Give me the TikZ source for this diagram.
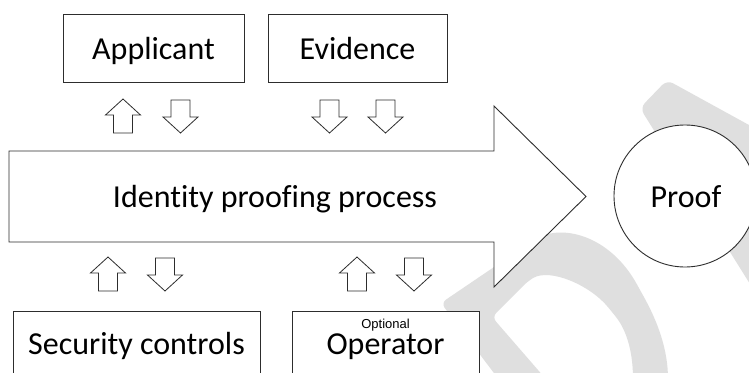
\documentclass[tikz,border=0pt]{standalone}
\usepackage{fontspec}
\setmainfont{Carlito}[Ligatures=NoCommon]
\newfontfamily\arialfont{Liberation Sans}
\definecolor{wm}{RGB}{223,223,223}
\definecolor{ln}{RGB}{45,45,45}
\begin{document}
\begin{tikzpicture}[x=1pt,y=-1pt,
  box/.style={draw=ln, line width=0.9pt, fill=white},
  lbl/.style={font=\fontsize{32}{32}\selectfont, anchor=base, inner sep=0pt},
  blk/.style={draw=ln, line width=0.8pt, fill=white, line join=miter},
  uparrow/.pic={\draw[blk] (0,0) -- (17.5,16) -- (9.5,16) -- (9.5,34) -- (-9.5,34) -- (-9.5,16) -- (-17.5,16) -- cycle;},
  downarrow/.pic={\draw[blk] (-9.5,0) -- (9.5,0) -- (9.5,17) -- (17.5,17) -- (0,33) -- (-17.5,17) -- (-9.5,17) -- cycle;}
]
\useasboundingbox (0,0) rectangle (749,372);
\clip (0,0) rectangle (749,372);
\fill[white] (0,0) rectangle (749,372);
% watermark
\fill[wm, even odd rule, rounded corners=6pt]
  (503,385) -- (441,303) -- (528,244)
  .. controls (560,222) and (610,235) .. (640,290)
  .. controls (658,322) and (668,350) .. (668,385) -- cycle
  (551,385) -- (492,317) -- (528,281)
  .. controls (550,268) and (590,285) .. (612,312)
  .. controls (628,332) and (633,355) .. (633,385) -- cycle;
\fill[wm, rounded corners=7pt] (640,108) -- (667,80) -- (820,164) -- (820,340) -- (785,340) -- cycle;
% top boxes
\node[box, minimum width=181pt, minimum height=68pt] (app) at (153.5,48) {};
\node[lbl] (appt) at (153.5,59.5) {Applicant};
\node[box, minimum width=179pt, minimum height=68pt] (evi) at (357.5,48) {};
\node[lbl] (evit) at (357.5,59.5) {Evidence};
% small arrows top
\pic at (123,99) {uparrow};
\pic at (180.5,100) {downarrow};
\pic at (329.5,100) {downarrow};
\pic at (385.5,100) {downarrow};
% big arrow
\draw[box, line join=miter] (9,151) -- (494,151) -- (494,106) -- (586,196.5) -- (494,287) -- (494,242) -- (9,242) -- cycle;
\node[lbl] (proc) at (275,207.5) {Identity proofing process};
% proof circle
\node[box, circle, minimum size=142pt, inner sep=0pt] (proof) at (685,196) {};
\node[lbl] (prooft) at (686,207.5) {Proof};
% small arrows bottom
\pic at (108,257) {uparrow};
\pic at (165,258) {downarrow};
\pic at (357,257) {uparrow};
\pic at (414,258) {downarrow};
% bottom boxes
\node[box, minimum width=247pt, minimum height=90pt] (sec) at (136.5,356) {};
\node[lbl] (sect) at (136.5,354) {Security controls};
\node[box, minimum width=187pt, minimum height=90pt] (op) at (385.5,356) {};
\node[anchor=base, inner sep=0pt, font=\arialfont\fontsize{13}{13}\selectfont] (opt) at (385.5,328) {Optional};
\node[lbl] (opt2) at (385.5,354) {Operator};
\end{tikzpicture}
\end{document}
